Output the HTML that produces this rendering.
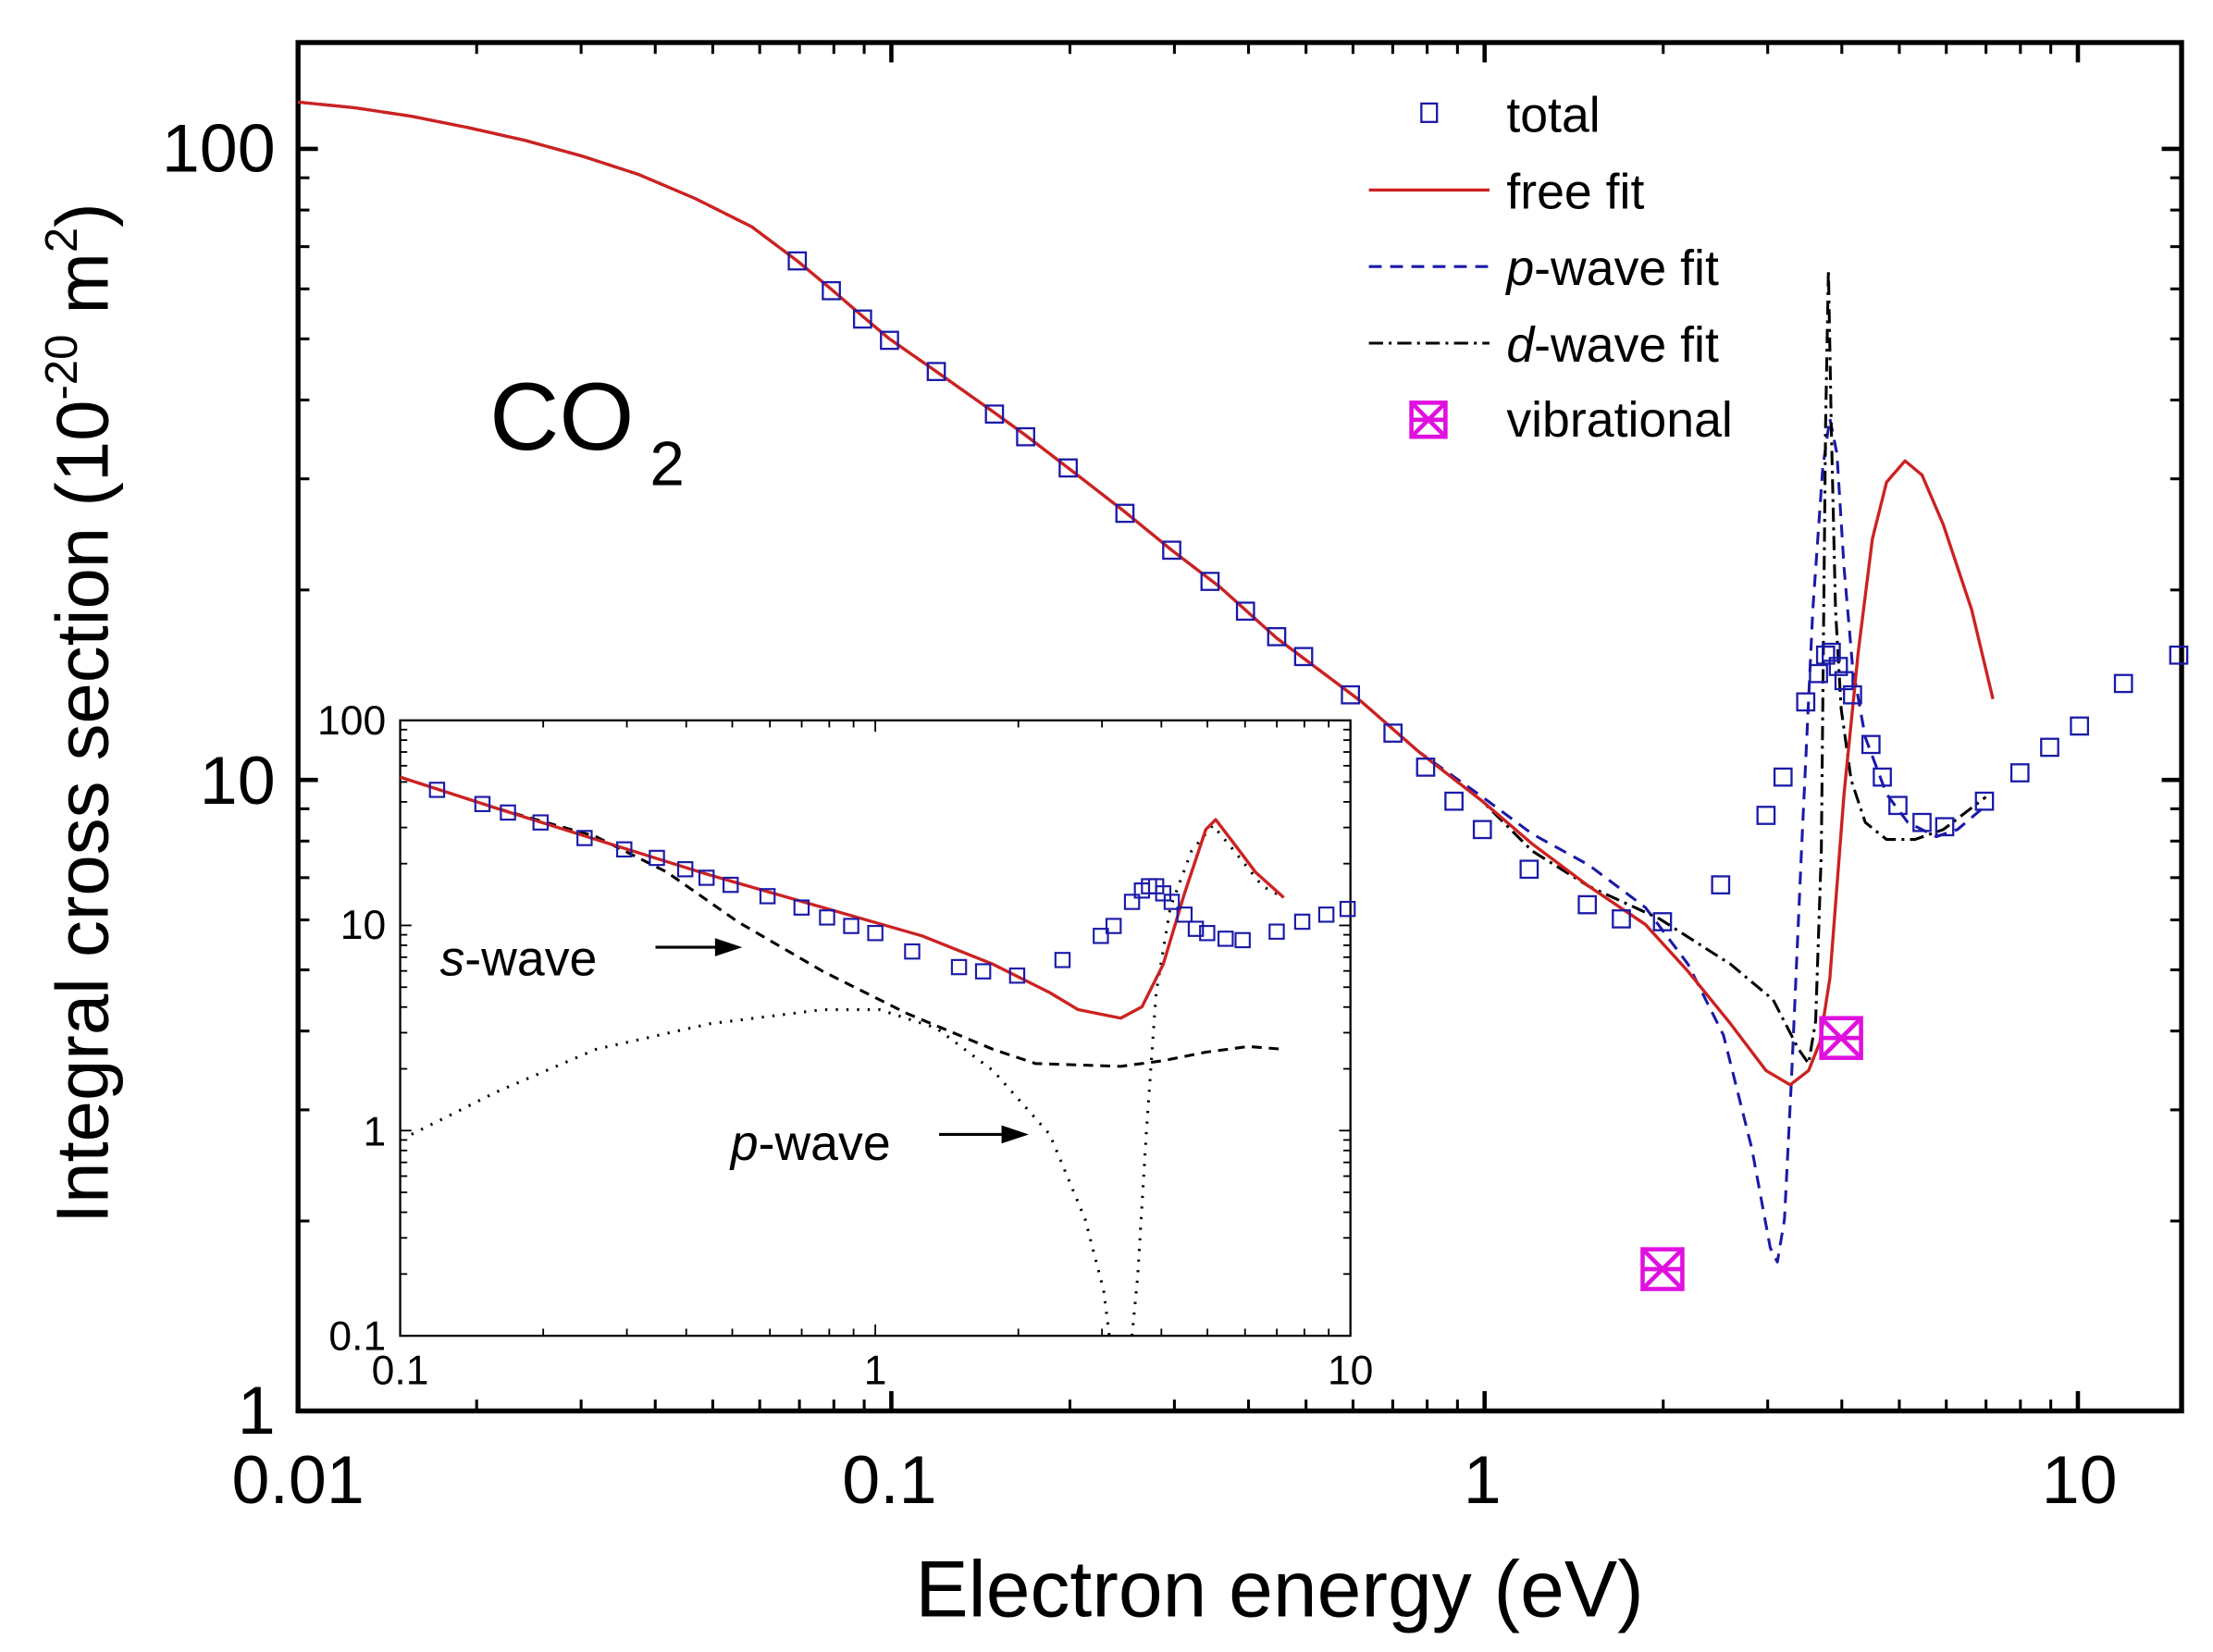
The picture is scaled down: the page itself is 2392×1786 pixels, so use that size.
<!DOCTYPE html>
<html><head><meta charset="utf-8"><style>html,body{margin:0;padding:0;background:#fff}svg{display:block}</style></head>
<body>
<svg id="s" width="2392" height="1786" viewBox="0 0 1560 1165" xmlns="http://www.w3.org/2000/svg" font-family="Liberation Sans, Arial, sans-serif">
<rect x="0" y="0" width="1560" height="1165" fill="#fff"/>
<g id="ticks" stroke="#000" fill="none"></g>
<rect x="210" y="30" width="1328" height="965" fill="none" stroke="#000" stroke-width="3.5"/>
<g font-size="48" fill="#000">
<text x="194" y="121" text-anchor="end">100</text>
<text x="194" y="567" text-anchor="end">10</text>
<text x="194" y="1011" text-anchor="end">1</text>
<text x="210" y="1060" text-anchor="middle">0.01</text>
<text x="627" y="1060" text-anchor="middle">0.1</text>
<text x="1045" y="1060" text-anchor="middle">1</text>
<text x="1466" y="1060" text-anchor="middle">10</text>
</g>
<text x="902" y="1140" font-size="56" text-anchor="middle">Electron energy (eV)</text>
<text transform="translate(76,503) rotate(-90)" font-size="52" text-anchor="middle">Integral cross section (10<tspan dy="-22" font-size="32">-20</tspan><tspan dy="22"> m</tspan><tspan dy="-22" font-size="32">2</tspan><tspan dy="22">)</tspan></text>
<text x="345" y="317" font-size="68">CO</text><text x="458" y="342" font-size="44">2</text>
<g fill="none" stroke-linejoin="round">
<polyline stroke="#1a1aa8" stroke-width="2" stroke-dasharray="9,6" points="210,72 250,76 290,82 330,90 370,99 410,110 450,123 490,140 530,160 562,184 586,204 608,223 627,239 660,262 701,291 723,307 753,330 793,361 826,388 860,414 900,450 960,495 1000,530 1045,562 1080,588 1120,610 1160,640 1190,680 1215,730 1235,810 1248,880 1253,890 1258,860 1263,760 1270,600 1278,430 1285,330 1290,295 1295,320 1300,400 1306,470 1315,520 1330,560 1345,580 1365,590 1380,585 1400,568"/>
<polyline stroke="#000" stroke-width="2" stroke-dasharray="10,4,2,4" points="210,72 250,76 290,82 330,90 370,99 410,110 450,123 490,140 530,160 562,184 586,204 608,223 627,239 660,262 701,291 723,307 753,330 793,361 826,388 860,414 900,450 960,495 1000,530 1045,565 1080,600 1120,625 1170,648 1220,680 1250,705 1268,740 1275,750 1280,720 1284,600 1287,300 1289,190 1291,300 1294,430 1298,500 1305,550 1315,580 1330,592 1350,592 1370,585 1400,562"/>
<polyline stroke="#cc2222" stroke-width="2.2" points="210,72 250,76 290,82 330,90 370,99 410,110 450,123 490,140 530,160 562,184 586,204 608,223 627,239 660,262 701,291 723,307 753,330 793,361 826,388 860,414 900,450 960,495 1000,530 1045,565 1080,595 1120,625 1160,652 1190,685 1220,722 1245,755 1262,765 1275,755 1283,735 1290,690 1300,560 1310,460 1320,380 1330,340 1343,325 1355,335 1370,370 1390,430 1405,493"/>
</g>
<g id="mainsq" fill="none" stroke="#1a1aa8" stroke-width="1.5"></g>
<g fill="none" stroke="#e010e0" stroke-width="3">
<rect x="1158" y="881" width="28" height="28"/><path d="M1158,881 L1186,909 M1186,881 L1158,909 M1158,895 H1186"/>
<rect x="1284" y="718" width="28" height="28"/><path d="M1284,718 L1312,746 M1312,718 L1284,746 M1284,732 H1312"/>
</g>
<g font-size="35" fill="#000">
<rect x="1002" y="73" width="11" height="13" fill="none" stroke="#1a1aa8" stroke-width="1.5"/>
<text x="1062" y="93">total</text>
<line x1="965" y1="134" x2="1050" y2="134" stroke="#cc2222" stroke-width="2.2"/>
<text x="1062" y="147">free fit</text>
<line x1="965" y1="188" x2="1050" y2="188" stroke="#1a1aa8" stroke-width="2" stroke-dasharray="9,6"/>
<text x="1062" y="201"><tspan font-style="italic">p</tspan>-wave fit</text>
<line x1="965" y1="242" x2="1050" y2="242" stroke="#000" stroke-width="2" stroke-dasharray="10,4,2,4"/>
<text x="1062" y="255"><tspan font-style="italic">d</tspan>-wave fit</text>
<g fill="none" stroke="#e010e0" stroke-width="3"><rect x="995" y="284" width="24" height="24"/><path d="M995,284 L1019,308 M1019,284 L995,308 M995,296 H1019"/></g>
<text x="1062" y="308">vibrational</text>
</g>
<rect x="282" y="508" width="670" height="434" fill="#fff"/>
<g id="iticks" stroke="#000" fill="none"></g>
<rect x="282" y="508" width="670" height="434" fill="none" stroke="#000" stroke-width="1.5"/>
<g font-size="29" fill="#000">
<text x="272" y="518" text-anchor="end">100</text>
<text x="272" y="662" text-anchor="end">10</text>
<text x="272" y="808" text-anchor="end">1</text>
<text x="272" y="952" text-anchor="end">0.1</text>
<text x="282" y="976" text-anchor="middle">0.1</text>
<text x="617" y="976" text-anchor="middle">1</text>
<text x="952" y="976" text-anchor="middle">10</text>
</g>
<g fill="none" stroke-linejoin="round">
<polyline stroke="#000" stroke-width="2" stroke-dasharray="7,5" points="282,548 350,570 420,590 470,615 520,650 580,685 640,715 700,740 730,750 790,752 820,748 850,742 880,738 905,740"/>
<polyline stroke="#000" stroke-width="2" stroke-dasharray="1.5,6" points="290,800 350,770 420,740 500,722 580,712 620,712 660,725 700,755 740,800 765,860 778,910 782,942"/>
<polyline stroke="#000" stroke-width="2" stroke-dasharray="1.5,6" points="798,942 802,900 808,800 815,700 825,640 840,600 855,582 870,600 890,625 905,633"/>
<polyline stroke="#cc2222" stroke-width="2.2" points="282,548 350,570 420,592 500,617 580,640 650,660 700,680 740,700 760,712 790,718 805,710 820,680 835,630 850,585 857,578 870,595 885,615 905,633"/>
</g>
<g id="insq" fill="none" stroke="#1a1aa8" stroke-width="1.4"></g>
<g font-size="35" fill="#000">
<text x="310" y="688"><tspan font-style="italic">s</tspan>-wave</text>
<text x="515" y="818"><tspan font-style="italic">p</tspan>-wave</text>
</g>
<g stroke="#000" stroke-width="2" fill="#000">
<line x1="462" y1="668" x2="510" y2="668"/><path d="M520,668 L505,663 L505,673 Z"/>
<line x1="662" y1="800" x2="712" y2="800"/><path d="M722,800 L707,795 L707,805 Z"/>
</g>
<script>
(function(){
var NS="http://www.w3.org/2000/svg";
function ln(g,x1,y1,x2,y2,w){var l=document.createElementNS(NS,"line");l.setAttribute("x1",x1);l.setAttribute("y1",y1);l.setAttribute("x2",x2);l.setAttribute("y2",y2);l.setAttribute("stroke-width",w);g.appendChild(l);}
function sq(g,x,y,s){var r=document.createElementNS(NS,"rect");r.setAttribute("x",x-s/2);r.setAttribute("y",y-s/2);r.setAttribute("width",s);r.setAttribute("height",s);g.appendChild(r);}
var g=document.getElementById("ticks");
for(var d=-2;d<=1;d++){for(var k=1;k<=9;k++){var x=210+418.3*(d+2+Math.log10(k));if(x>1538)continue;var L=k==1?14:8,w=k==1?3:2;ln(g,x,995,x,995-L,w);ln(g,x,30,x,30+L,w);}}
for(var d=0;d<=2;d++){for(var k=1;k<=9;k++){var y=995-445*(d+Math.log10(k));if(y<30)continue;var L=k==1?14:8,w=k==1?3:2;ln(g,210,y,210+L,y,w);ln(g,1538,y,1538-L,y,w);}}
var gi=document.getElementById("iticks");
for(var d=-1;d<=0;d++){for(var k=1;k<=9;k++){var x=282+335*(d+1+Math.log10(k));var L=k==1?8:5;ln(gi,x,942,x,942-L,1.2);ln(gi,x,508,x,508+L,1.2);}}
for(var d=-1;d<=1;d++){for(var k=1;k<=9;k++){var y=942-144.7*(d+1+Math.log10(k));var L=k==1?8:5;ln(gi,282,y,282+L,y,1.2);ln(gi,952,y,952-L,y,1.2);}}
var ms=[[562,184],[586,205],[608,225],[627,240],[660,262],[701,292],[723,308],[753,330],[793,362],[826,388],[853,410],[878,431],[900,449],[919,463],[952,490],[982,517],[1005,541],[1025,565],[1045,585],[1078,613],[1119,638],[1143,648],[1172,650],[1213,624],[1245,575],[1257,548],[1273,495],[1282,475],[1287,462],[1291,460],[1296,470],[1300,480],[1306,490],[1319,525],[1327,548],[1338,568],[1355,580],[1371,583],[1399,565],[1424,545],[1445,527],[1466,512],[1497,482],[1536,462]];
var gm=document.getElementById("mainsq");ms.forEach(function(p){sq(gm,p[0],p[1],12);});
var is=[[308,557],[340,567],[358,573],[381,580],[412,591],[440,599],[463,605],[483,613],[498,619],[515,624],[541,632],[565,640],[583,647],[600,653],[617,658],[643,671],[676,682],[693,685],[717,688],[749,677],[776,660],[785,653],[798,636],[805,628],[810,625],[815,625],[820,630],[826,636],[835,645],[843,655],[851,658],[864,662],[876,663],[900,657],[918,650],[935,645],[950,641]];
var gn=document.getElementById("insq");is.forEach(function(p){sq(gn,p[0],p[1],10);});
})();
</script>
</svg>
</body></html>
